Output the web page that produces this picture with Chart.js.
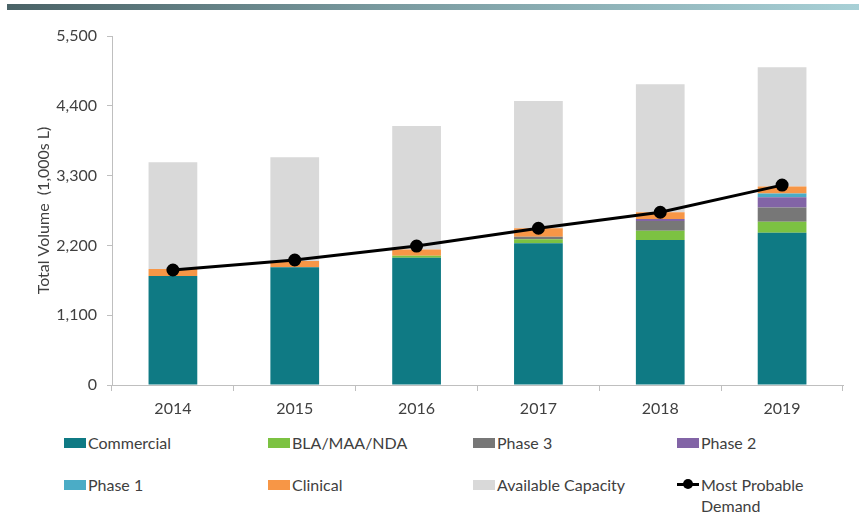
<!DOCTYPE html>
<html>
<head>
<meta charset="utf-8">
<script src="https://cdn.jsdelivr.net/npm/chart.js@4/dist/chart.umd.min.js"></script>
<style>
  body { margin: 0; background: #fff; font-family: Lato, sans-serif; }
  #wrap { position: relative; width: 859px; height: 514px; overflow: hidden; }
  #band { position: absolute; left: 7px; top: 4px; width: 852px; height: 6px;
          background: linear-gradient(to right, #4a6367, #7a9ba0 45%, #a8d0d6); }
  #chart-box { position: absolute; left: 0; top: 0; width: 859px; height: 425px; }
  .legend-item { position: absolute; display: flex; align-items: flex-start;
                 font-size: 16px; color: #404040; line-height: 21px; }
  .legend-box { width: 22px; height: 10px; margin-top: 6px; flex: none; }
  .legend-line { width: 22px; height: 21px; position: relative; flex: none; }
  .legend-line::before { content: ''; position: absolute; left: 0; right: 0; top: 9px; height: 3px; background: #000; }
  .legend-line::after { content: ''; position: absolute; left: 6px; top: 5px; width: 10px; height: 10px; border-radius: 50%; background: #000; }
</style>
</head>
<body>
<div id="wrap">
  <div id="band"></div>
  <div id="chart-box"><canvas id="chart"></canvas></div>
  <div id="legend"></div>
</div>
<script>
// Chart data (1,000s L)
const years = ['2014', '2015', '2016', '2017', '2018', '2019'];
const commercial = [1718, 1855, 2007, 2233, 2285, 2401];
const blaMaaNda = [0, 0, 30, 63, 147, 173];
const phase3 = [0, 0, 0, 42, 153, 222];
const phase2 = [0, 0, 0, 0, 30, 163];
const phase1 = [0, 0, 0, 0, 0, 60];
const clinical = [110, 100, 100, 132, 107, 108];
const availableCapacity = [1682, 1634, 1945, 2006, 2017, 1880];
const mostProbableDemand = [1812, 1970, 2190, 2470, 2722, 3150];
const yTicks = [0, 1100, 2200, 3300, 4400, 5500];

const textColor = '#404040';
const axisColor = '#bfbfbf';

function barSet(label, data, color) {
    return {
        type: 'bar',
        label: label,
        data: data,
        backgroundColor: color,
        borderWidth: 0,
        stack: 'volume',
        order: 1,
        categoryPercentage: 1,
        barPercentage: 0.4
    };
}

const datasets = [
    barSet('Commercial', commercial, '#0f7a84'),
    barSet('BLA/MAA/NDA', blaMaaNda, '#7cc242'),
    barSet('Phase 3', phase3, '#777777'),
    barSet('Phase 2', phase2, '#8264a6'),
    barSet('Phase 1', phase1, '#4bacc6'),
    barSet('Clinical', clinical, '#f79646'),
    barSet('Available Capacity', availableCapacity, '#d9d9d9'),
    {
        type: 'line',
        label: 'Most Probable Demand',
        data: mostProbableDemand,
        borderColor: '#000',
        backgroundColor: '#000',
        borderWidth: 3,
        pointRadius: 5,
        pointBackgroundColor: '#000',
        stack: 'demand',
        order: 0,
        tension: 0
    }
];

const ctx = document.getElementById('chart').getContext('2d');
const chart = new Chart(ctx, {
    type: 'bar',
    data: { labels: years, datasets: datasets },
    options: {
        responsive: true,
        maintainAspectRatio: false,
        animation: false,
        layout: { padding: { top: 36, right: 16, left: 0, bottom: 0 } },
        plugins: {
            legend: { display: false },
            tooltip: { enabled: false }
        },
        scales: {
            x: {
                stacked: true,
                grid: { drawOnChartArea: false, drawTicks: true, tickLength: 6, color: axisColor, offset: true },
                border: { color: axisColor, width: 1 },
                ticks: { color: textColor, font: { family: 'Lato', size: 16 }, padding: 8 },
                afterFit: function(scale) { scale.height = 40; }
            },
            y: {
                stacked: true,
                min: 0,
                max: 5500,
                afterBuildTicks: function(scale) {
                    scale.ticks = yTicks.map(v => ({ value: v }));
                },
                grid: { drawOnChartArea: false, drawTicks: true, tickLength: 5, color: axisColor },
                border: { color: axisColor, width: 1 },
                ticks: {
                    color: textColor,
                    font: { family: 'Lato', size: 16 },
                    padding: 10,
                    callback: v => v.toLocaleString('en-US')
                },
                title: {
                    display: true,
                    text: 'Total Volume  (1,000s L)',
                    color: textColor,
                    font: { family: 'Lato', size: 16 },
                    padding: { top: 34, bottom: 0 }
                },
                afterFit: function(scale) { scale.width = 112; }
            }
        }
    }
});

// HTML legend in a 4-column grid like the original
const legendEl = document.getElementById('legend');
const colX = [64, 268, 473, 677];
const rowY = [432, 474];
chart.data.datasets.forEach((ds, i) => {
    const item = document.createElement('div');
    item.className = 'legend-item';
    item.style.left = colX[i % 4] + 'px';
    item.style.top = rowY[Math.floor(i / 4)] + 'px';
    const swatch = document.createElement('div');
    if (ds.type === 'line') {
        swatch.className = 'legend-line';
    } else {
        swatch.className = 'legend-box';
        swatch.style.background = ds.backgroundColor;
    }
    const text = document.createElement('div');
    text.style.marginLeft = '2px';
    if (ds.type === 'line') text.style.width = '115px';
    text.textContent = ds.label;
    item.appendChild(swatch);
    item.appendChild(text);
    legendEl.appendChild(item);
});
</script>
</body>
</html>
